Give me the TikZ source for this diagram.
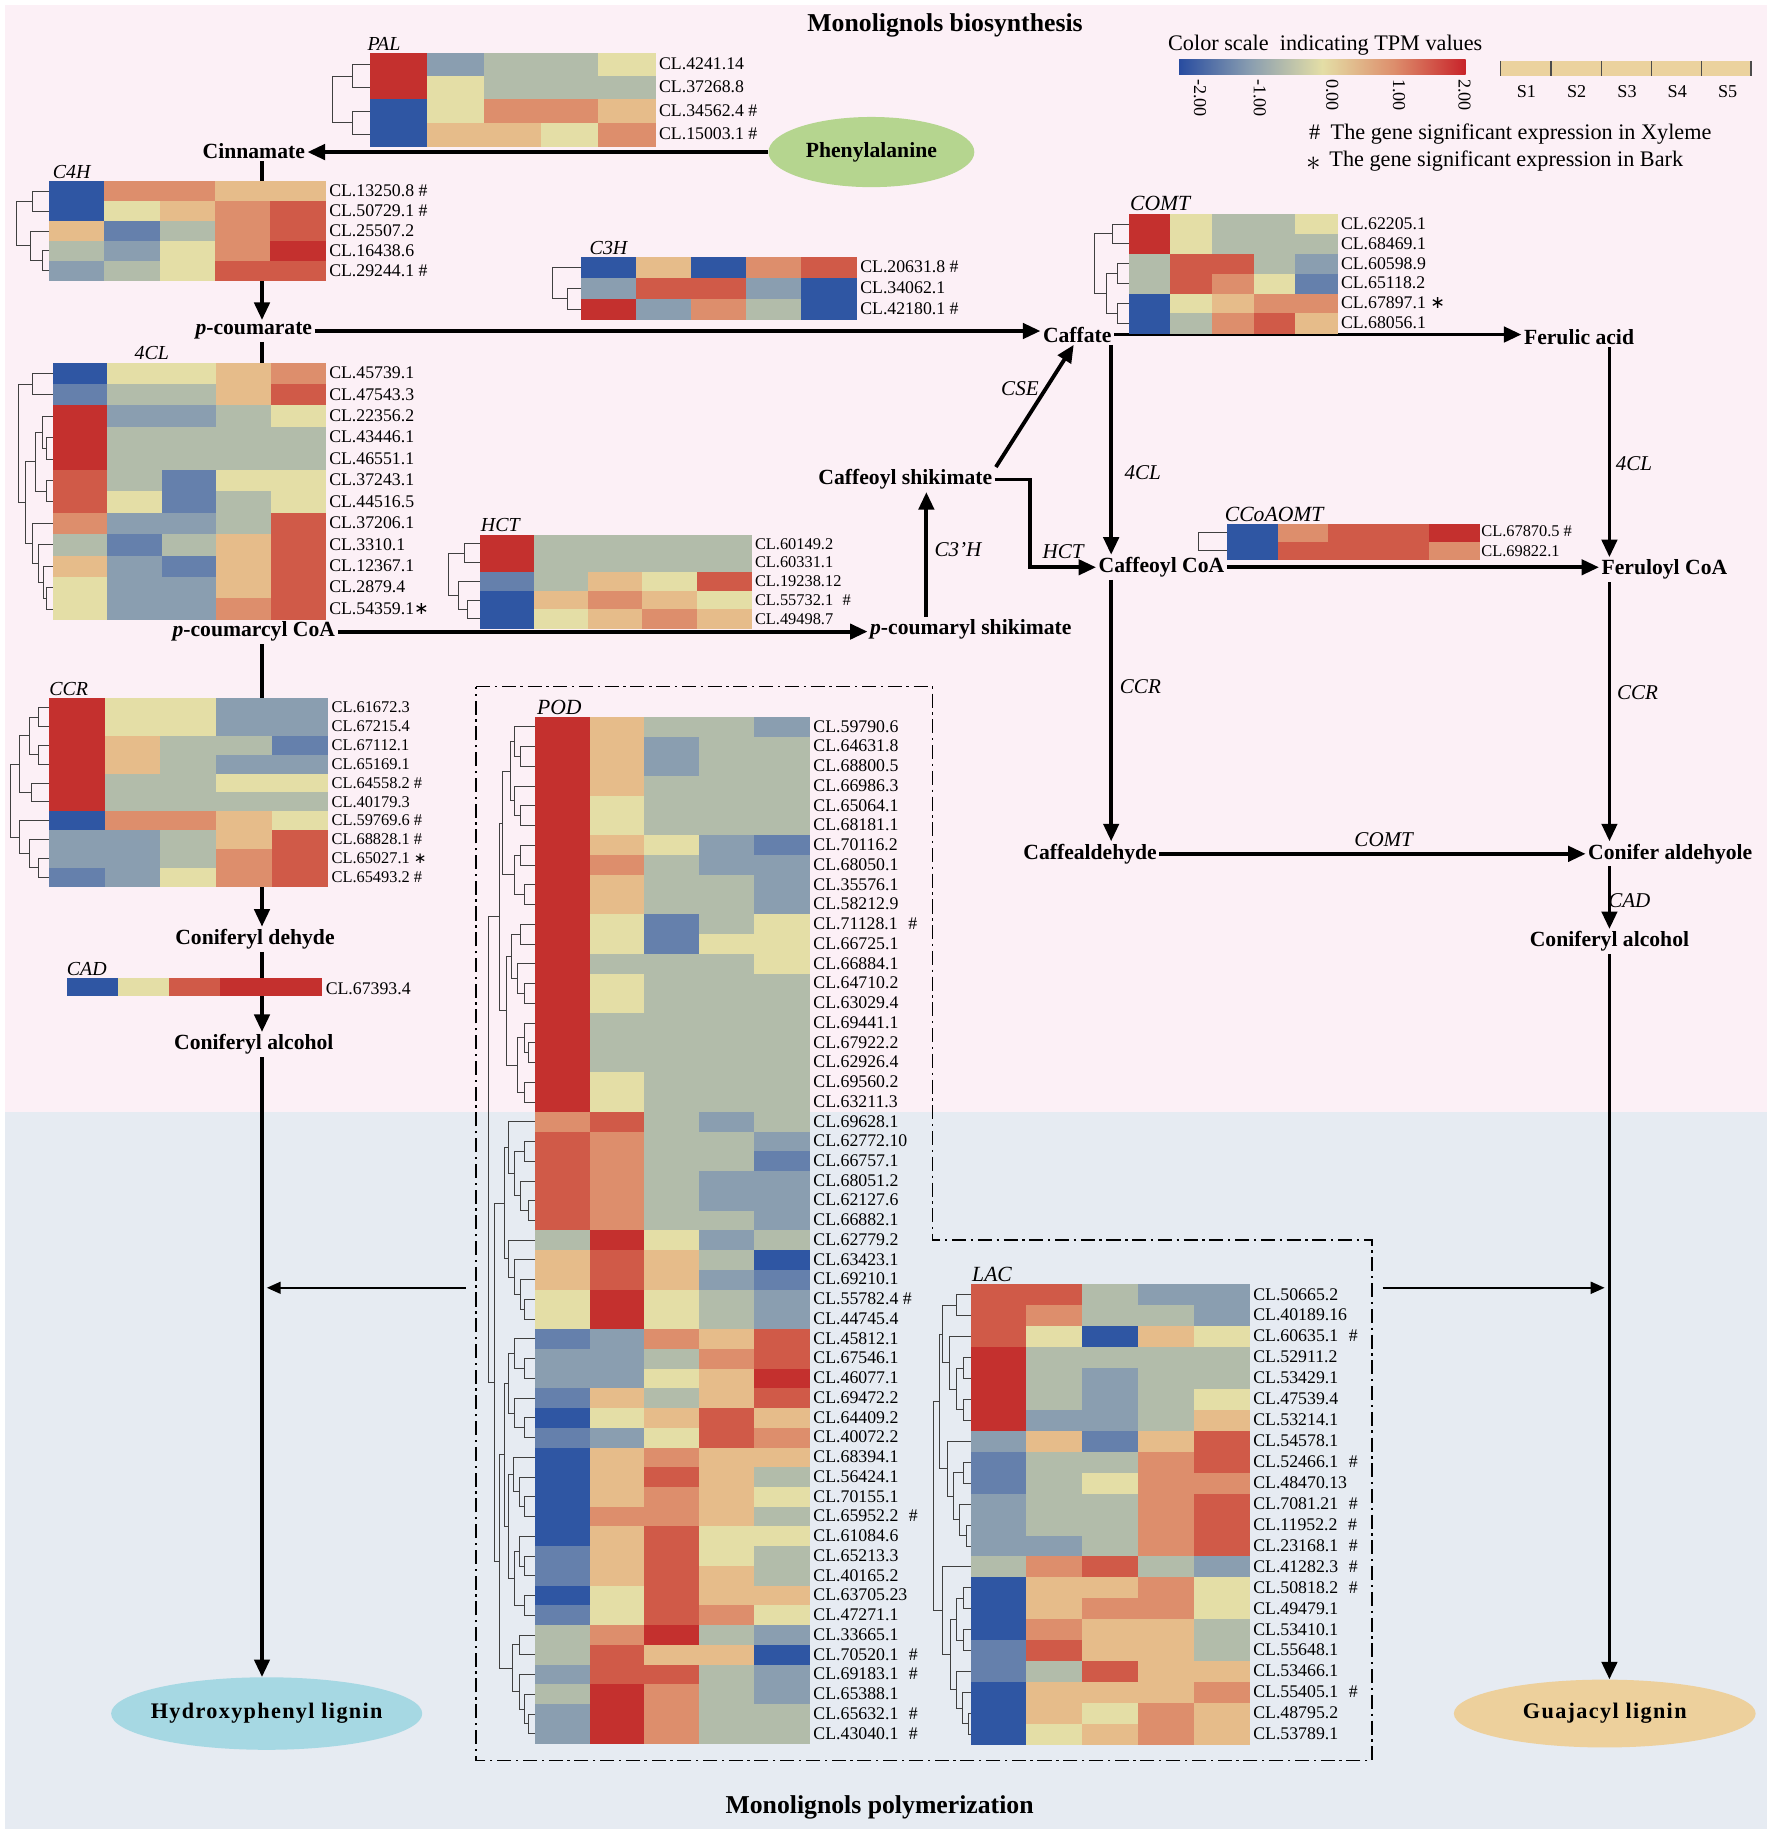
\documentclass[tikz,border=0pt]{standalone}
\usepackage{fontspec}
\setmainfont{Liberation Serif}
\newfontfamily\djv{DejaVu Sans}
\usetikzlibrary{arrows.meta,shapes.geometric,calc}
\definecolor{c0}{RGB}{47,86,163}
\definecolor{c1}{RGB}{101,128,172}
\definecolor{c2}{RGB}{138,158,176}
\definecolor{c3}{RGB}{178,188,170}
\definecolor{c4}{RGB}{228,222,166}
\definecolor{c5}{RGB}{230,188,138}
\definecolor{c6}{RGB}{221,142,108}
\definecolor{c7}{RGB}{208,90,72}
\definecolor{c8}{RGB}{196,48,46}
\definecolor{cbb}{RGB}{40,76,160}
\definecolor{cbr}{RGB}{200,35,42}
\definecolor{pinkbg}{RGB}{252,240,246}
\definecolor{bluebg}{RGB}{230,235,242}
\definecolor{phecol}{RGB}{181,213,143}
\definecolor{hydcol}{RGB}{166,216,227}
\definecolor{guacol}{RGB}{237,208,156}
\definecolor{sampcol}{RGB}{235,210,158}
\pgfdeclarehorizontalshading{tpm}{100bp}{color(0bp)=(cbb); color(25bp)=(cbb); color(37.5bp)=(c2); color(50bp)=(c4); color(62.5bp)=(c6); color(75bp)=(cbr); color(100bp)=(cbr)}
\newcommand\hmap[5]{\foreach \row [count=\i] in {#5} {\foreach \v [count=\j] in \row {\fill[fill=c\v] ({#1+(\j-1)*#3},{#2+(\i-1)*#4}) rectangle ++({#3+0.5},{#4+0.5});}}}
\newcommand\hlabels[5]{\foreach \t [count=\i] in {#5} {\node[lab] (#4-\i) at (#1,{#2+(\i-0.5)*#3}) {\t};}}
\newcommand\dbr[5]{\draw[dend] (#4,{\HY+(#2-0.5)*\HH}) -- (#1,{\HY+(#2-0.5)*\HH}) -- (#1,{\HY+(#3-0.5)*\HH}) -- (#5,{\HY+(#3-0.5)*\HH});}
\newcommand\stmark[1][15]{{\djv\fontsize{#1}{#1}\selectfont ∗}}
\newcommand\stbig{\raisebox{-0.15em}{\fontsize{26}{26}\selectfont$\ast$}}
\begin{document}
\begin{tikzpicture}[x=1pt,y=-1pt,
  lab/.style={anchor=west, inner sep=0.3pt, text height=10pt, text depth=1pt, font=\fontsize{15.2}{16}\selectfont},
  cmp/.style={inner sep=2pt, font=\bfseries\fontsize{18.5}{20}\selectfont},
  enz/.style={inner sep=1pt, font=\itshape\fontsize{18}{20}\selectfont},
  htitle/.style={anchor=south west, inner sep=1pt, font=\itshape\fontsize{17}{18}\selectfont},
  lign/.style={ellipse, inner xsep=-12pt, inner ysep=0pt, font=\bfseries\fontsize{19}{20}\selectfont\addfontfeature{LetterSpace=6}},
  arr/.style={line width=3.3pt, -{Triangle[length=15pt,width=13pt]}},
  arrthin/.style={line width=2.2pt, -{Triangle[length=12pt,width=10pt]}},
  dend/.style={line width=0.8pt, black!75},
  dashbox/.style={line width=1.2pt, dash pattern=on 12pt off 4pt on 2pt off 4pt},
  legfont/.style={inner sep=1pt, font=\fontsize{19}{20}\selectfont}]
\useasboundingbox (0,0) rectangle (1515,1568);
\fill[white] (0,0) rectangle (1515,1568);
\fill[pinkbg] (4,4) rectangle (1511,951);
\fill[bluebg] (4,951) rectangle (1511,1564);
\draw[dashbox] (407,587) -- (797,587) -- (797,1060) -- (1173,1060) -- (1173,1505) -- (407,1505) -- cycle;
% titles
\node[font=\bfseries\fontsize{22}{24}\selectfont] (title) at (808,22) {Monolignols biosynthesis};
\node[font=\bfseries\fontsize{22}{24}\selectfont] (title2) at (752,1545) {Monolignols polymerization};
% compounds
\node[lign, fill=phecol, minimum width=176pt, minimum height=60pt, inner xsep=0pt, font=\bfseries\fontsize{18.5}{20}\selectfont] (phe) at (745,130) {Phenylalanine};
\node[cmp] (cin) at (217,129) {Cinnamate};
\node[cmp] (pcou) at (217,283) {{\itshape p}-coumarate};
\node[cmp] (pcoa) at (217,540) {{\itshape p}-coumarcyl CoA};
\node[cmp] (conde) at (218,803) {Coniferyl dehyde};
\node[cmp] (conal1) at (217,893) {Coniferyl alcohol};
\node[lign, fill=hydcol, minimum width=266pt, minimum height=62pt] (hyd) at (228,1465) {Hydroxyphenyl lignin};
\node[cmp] (caf) at (921,286) {Caffate};
\node[cmp] (fer) at (1350,288) {Ferulic acid};
\node[cmp] (cafsh) at (774,410) {Caffeoyl shikimate};
\node[cmp] (pcsh) at (830,538) {{\itshape p}-coumaryl shikimate};
\node[cmp] (cafcoa) at (993,485) {Caffeoyl CoA};
\node[cmp] (fercoa) at (1423,487) {Feruloyl CoA};
\node[cmp] (cafald) at (932,730) {Caffealdehyde};
\node[cmp] (conald) at (1428,730) {Conifer aldehyole};
\node[cmp] (conal2) at (1376,805) {Coniferyl alcohol};
\node[lign, fill=guacol, minimum width=258pt, minimum height=58pt] (guaj) at (1372,1465) {Guajacyl lignin};
% enzyme labels
\node[enz] (e-c3h) at (819,470) {C3’H};
\node[enz] (e-cse) at (872,332) {CSE};
\node[enz] (e-hct) at (909,472) {HCT};
\node[enz] (e-4cl1) at (977,404) {4CL};
\node[enz] (e-4cl2) at (1397,396) {4CL};
\node[enz] (e-ccr1) at (975,587) {CCR};
\node[enz] (e-ccr2) at (1400,592) {CCR};
\node[enz] (e-comt) at (1183,718) {COMT};
\node[enz] (e-cad) at (1393,770) {CAD};
% column coordinates
\coordinate (lx) at (224,0);
\coordinate (mx) at (950,0);
\coordinate (rx) at (1376,0);
\coordinate (c3x) at (792,0);
\coordinate (podout) at (398,1101);
\coordinate (hydin) at (228,1101);
\coordinate (lacout) at (1182,1101);
\coordinate (guain) at (1372,1101);
% arrows
\draw[arr] (phe.west) -- (phe.west -| cin.east);
\draw[arr] (cin.south -| lx) -- (pcou.north -| lx);
\draw[arr] (pcou.east) -- (pcou.east -| caf.west);
\draw[arr] (pcou.south -| lx) -- (pcoa.north -| lx);
\draw[arr] (pcoa.east) -- (pcoa.east -| pcsh.west);
\draw[arr] (pcsh.north -| c3x) -- (cafsh.south -| c3x);
\draw[arr] ([xshift=1pt]cafsh.north east) -- ([xshift=-3pt]caf.south);
\draw[arr] (cafsh.east) -- ++(30,0) |- (cafcoa.west);
\draw[arr] (caf.east) -- (caf.east -| fer.west);
\draw[arr] (caf.south -| mx) -- (cafcoa.north -| mx);
\draw[arr] (fer.south -| rx) -- (fercoa.north -| rx);
\draw[arr] (cafcoa.east) -- (cafcoa.east -| fercoa.west);
\draw[arr] (cafcoa.south -| mx) -- (cafald.north -| mx);
\draw[arr] (fercoa.south -| rx) -- (conald.north -| rx);
\draw[arr] (cafald.east) -- (cafald.east -| conald.west);
\draw[arr] (conald.south -| rx) -- (conal2.north -| rx);
\draw[arr] (conal2.south -| rx) -- (guaj.north -| rx);
\draw[arr] (pcoa.south -| lx) -- (conde.north -| lx);
\draw[arr] (conde.south -| lx) -- (conal1.north -| lx);
\draw[arr] (conal1.south -| lx) -- (hyd.north -| lx);
\draw[arrthin] (podout) -- (hydin);
\draw[arrthin] (lacout) -- (guain);
% ---------- heatmaps ----------
% PAL
\hmap{316}{45}{48.8}{20}{{8,2,3,3,4},{8,4,3,3,3},{0,4,6,6,5},{0,5,5,4,6}}
\node[htitle] (t-pal) at (313,44) {PAL};
\hlabels{563}{45}{20}{pal}{CL.4241.14, CL.37268.8, CL.34562.4 \#, CL.15003.1 \#}
\def\HY{45}\def\HH{20}
\dbr{301}{1}{2}{316}{316}\dbr{301}{3}{4}{316}{316}\dbr{284}{1.5}{3.5}{301}{301}
% C4H
\hmap{42}{155}{47.2}{17}{{0,6,6,5,5},{0,4,5,6,7},{5,1,3,6,7},{3,2,4,6,8},{2,3,4,7,7}}
\node[htitle] (t-c4h) at (44,154) {C4H};
\hlabels{281}{155}{17}{c4h}{CL.13250.8 \#, CL.50729.1 \#, CL.25507.2, CL.16438.6, CL.29244.1 \#}
\def\HY{155}\def\HH{17}
\dbr{28}{1}{2}{42}{42}\dbr{36}{4}{5}{42}{42}\dbr{26}{3}{4.5}{42}{36}\dbr{14}{1.5}{3.75}{28}{26}
% C3H
\hmap{497}{220}{47}{17.7}{{0,5,0,6,7},{2,7,7,2,0},{8,2,6,3,0}}
\node[htitle] (t-c3h) at (503,219) {C3H};
\hlabels{735}{220}{17.7}{c3h}{CL.20631.8 \#, CL.34062.1, CL.42180.1 \#}
\def\HY{220}\def\HH{17.7}
\dbr{485}{2}{3}{497}{497}\dbr{472}{1}{2.5}{497}{485}
% COMT
\hmap{965}{183}{35.6}{17}{{8,4,3,3,4},{8,4,3,3,3},{3,7,7,3,2},{3,7,6,4,1},{0,4,5,6,6},{0,3,6,7,5}}
\node[htitle, font=\itshape\fontsize{18.5}{20}\selectfont] (t-comt) at (965,181) {COMT};
\hlabels{1146}{183}{17}{comt}{CL.62205.1, CL.68469.1, CL.60598.9, CL.65118.2, CL.67897.1 \stmark, CL.68056.1}
\def\HY{183}\def\HH{17}
\dbr{951}{1}{2}{965}{965}\dbr{955}{3}{4}{965}{965}\dbr{955}{5}{6}{965}{965}\dbr{946}{3.5}{5.5}{955}{955}\dbr{936}{1.5}{4.5}{951}{946}
% 4CL
\hmap{45}{310}{46.6}{18.33}{{0,4,4,5,6},{1,3,3,5,7},{8,2,2,3,4},{8,3,3,3,3},{8,3,3,3,3},{7,3,1,4,4},{7,4,1,3,4},{6,2,2,3,7},{3,1,3,5,7},{5,2,1,5,7},{4,2,2,5,7},{4,2,2,6,7}}
\node[htitle] (t-4cl) at (114,309) {4CL};
\hlabels{281}{310}{18.33}{fcl}{CL.45739.1, CL.47543.3, CL.22356.2, CL.43446.1, CL.46551.1, CL.37243.1, CL.44516.5, CL.37206.1, CL.3310.1, CL.12367.1, CL.2879.4, CL.54359.1\stmark}
\def\HY{310}\def\HH{18.33}
\dbr{28}{1}{2}{45}{45}\dbr{40}{4}{5}{45}{45}\dbr{36}{3}{4.5}{45}{40}\dbr{40}{6}{7}{45}{45}\dbr{30}{3.75}{6.5}{36}{40}\dbr{40}{11}{12}{45}{45}\dbr{37}{10}{11.5}{45}{40}\dbr{33}{9}{10.75}{45}{37}\dbr{28}{8}{9.875}{45}{33}\dbr{22}{5.125}{8.9375}{30}{28}\dbr{16}{1.5}{7.03}{28}{22}
% HCT
\hmap{410}{457}{46.4}{16}{{8,3,3,3,3},{8,3,3,3,3},{1,3,5,4,7},{0,5,6,5,4},{0,4,5,6,5}}
\node[htitle] (t-hct) at (410,456) {HCT};
\begin{scope}[lab/.append style={font=\fontsize{14}{15}\selectfont}]
\hlabels{645}{457}{16}{hct}{CL.60149.2, CL.60331.1, CL.19238.12, CL.55732.1\hspace{8pt}\#, CL.49498.7}
\end{scope}
\def\HY{457}\def\HH{16}
\dbr{397}{1}{2}{410}{410}\dbr{400}{4}{5}{410}{410}\dbr{392}{3}{4.5}{410}{400}\dbr{383}{1.5}{3.75}{397}{392}
% CCoAOMT
\hmap{1049}{448}{43.2}{15}{{0,6,7,7,8},{0,7,7,7,6}}
\node[htitle, font=\itshape\fontsize{18.5}{20}\selectfont] (t-ccoa) at (1046,447) {CCoAOMT};
\begin{scope}[lab/.append style={font=\fontsize{14}{15}\selectfont}]
\node[lab] (ccoa-1) at (1266,454) {CL.67870.5 \#};
\node[lab] (ccoa-2) at (1266,471) {CL.69822.1};
\end{scope}
\def\HY{448}\def\HH{15}
\dbr{1025}{1}{2}{1049}{1049}
% CCR
\hmap{42}{597}{47.6}{16.1}{{8,4,4,2,2},{8,4,4,2,2},{8,5,3,3,1},{8,5,3,2,2},{8,3,3,4,4},{8,3,3,3,3},{0,6,6,5,4},{2,2,3,5,7},{2,2,3,6,7},{1,2,4,6,7}}
\node[htitle] (t-ccr) at (41,596) {CCR};
\begin{scope}[lab/.append style={font=\fontsize{14}{15}\selectfont}]
\hlabels{283}{597}{16.1}{ccr}{CL.61672.3, CL.67215.4, CL.67112.1, CL.65169.1, CL.64558.2 \#, CL.40179.3, CL.59769.6 \#, CL.68828.1 \#, CL.65027.1 \stmark[13], CL.65493.2 \#}
\end{scope}
\def\HY{597}\def\HH{16.1}
\dbr{33}{1}{2}{42}{42}\dbr{33}{3}{4}{42}{42}\dbr{25}{1.5}{3.5}{33}{33}\dbr{27}{5}{6}{42}{42}\dbr{17}{2.5}{5.5}{25}{27}\dbr{33}{9}{10}{42}{42}\dbr{25}{8}{9.5}{42}{33}\dbr{17}{7}{8.75}{42}{25}\dbr{9}{4}{7.875}{17}{17}
% CAD
\hmap{57}{836}{43.6}{15}{{0,4,7,8,8}}
\node[htitle] (t-cad) at (56,835) {CAD};
\node[lab] (cad-1) at (278,846) {CL.67393.4};
% POD
\hmap{457}{613}{47}{16.88}{{8,5,3,3,2},{8,5,2,3,3},{8,5,2,3,3},{8,5,3,3,3},{8,4,3,3,3},{8,4,3,3,3},{8,5,4,2,1},{8,6,3,2,2},{8,5,3,3,2},{8,5,3,3,2},{8,4,1,3,4},{8,4,1,4,4},{8,3,3,3,4},{8,4,3,3,3},{8,4,3,3,3},{8,3,3,3,3},{8,3,3,3,3},{8,3,3,3,3},{8,4,3,3,3},{8,4,3,3,3},{6,7,3,2,3},{7,6,3,3,2},{7,6,3,3,1},{7,6,3,2,2},{7,6,3,2,2},{7,6,3,3,2},{3,8,4,2,3},{5,7,5,3,0},{5,7,5,2,1},{4,8,4,3,2},{4,8,4,3,2},{1,2,6,5,7},{2,2,3,6,7},{2,2,4,5,8},{1,5,3,5,7},{0,4,5,7,5},{1,2,4,7,6},{0,5,6,5,5},{0,5,7,5,3},{0,5,6,5,4},{0,6,6,5,3},{0,5,7,4,4},{1,5,7,4,3},{1,5,7,5,3},{0,4,7,5,5},{1,4,7,6,4},{3,6,8,3,2},{3,7,5,5,0},{2,7,7,3,2},{3,8,6,3,2},{2,8,6,3,3},{2,8,6,3,3}}
\node[htitle, font=\itshape\fontsize{18.5}{20}\selectfont] (t-pod) at (458,612) {POD};
\hlabels{695}{613}{16.88}{pod}{CL.59790.6, CL.64631.8, CL.68800.5, CL.66986.3, CL.65064.1, CL.68181.1, CL.70116.2, CL.68050.1, CL.35576.1, CL.58212.9, CL.71128.1\hspace{9pt}\#, CL.66725.1, CL.66884.1, CL.64710.2, CL.63029.4, CL.69441.1, CL.67922.2, CL.62926.4, CL.69560.2, CL.63211.3, CL.69628.1, CL.62772.10, CL.66757.1, CL.68051.2, CL.62127.6, CL.66882.1, CL.62779.2, CL.63423.1, CL.69210.1, CL.55782.4 \#, CL.44745.4, CL.45812.1, CL.67546.1, CL.46077.1, CL.69472.2, CL.64409.2, CL.40072.2, CL.68394.1, CL.56424.1, CL.70155.1, CL.65952.2\hspace{9pt}\#, CL.61084.6, CL.65213.3, CL.40165.2, CL.63705.23, CL.47271.1, CL.33665.1, CL.70520.1\hspace{9pt}\#, CL.69183.1\hspace{9pt}\#, CL.65388.1, CL.65632.1\hspace{9pt}\#, CL.43040.1\hspace{9pt}\#}
\def\HY{613}\def\HH{16.88}
\dbr{445}{2}{3}{457}{457}\dbr{440}{1}{2.5}{457}{445}
\dbr{445}{5}{6}{457}{457}\dbr{440}{4}{5.5}{457}{445}
\dbr{436}{1.75}{4.75}{440}{440}
\dbr{445}{7}{8}{457}{457}\dbr{448}{9}{10}{457}{457}\dbr{440}{7.5}{9.5}{445}{448}
\dbr{430}{3.25}{8.5}{436}{440}
\dbr{445}{11}{12}{457}{457}\dbr{448}{14}{15}{457}{457}\dbr{442}{13}{14.5}{457}{448}\dbr{437}{11.5}{13.75}{445}{442}
\dbr{452}{17}{18}{457}{457}\dbr{448}{16}{17.5}{457}{452}\dbr{448}{19}{20}{457}{457}\dbr{442}{16.75}{19.5}{448}{448}
\dbr{433}{12.625}{18.125}{437}{442}
\dbr{427}{5.875}{15.375}{430}{433}
\dbr{448}{22}{23}{457}{457}\dbr{452}{25}{26}{457}{457}\dbr{445}{24}{25.5}{457}{452}\dbr{440}{22.5}{24.75}{448}{445}\dbr{435}{21}{23.625}{457}{440}
\dbr{448}{30}{31}{457}{457}\dbr{445}{29}{30.5}{457}{448}\dbr{440}{28}{29.75}{457}{445}\dbr{435}{27}{28.875}{457}{440}
\dbr{431}{22.31}{27.94}{435}{435}
\dbr{448}{33}{34}{457}{457}\dbr{440}{32}{33.5}{457}{448}\dbr{448}{36}{37}{457}{457}\dbr{440}{35}{36.5}{457}{448}\dbr{435}{32.75}{35.75}{440}{440}
\dbr{448}{40}{41}{457}{457}\dbr{444}{39}{40.5}{457}{448}\dbr{439}{38}{39.75}{457}{444}
\dbr{448}{43}{44}{457}{457}\dbr{444}{42}{43.5}{457}{448}\dbr{448}{45}{46}{457}{457}\dbr{440}{42.75}{45.5}{444}{448}
\dbr{435}{38.875}{44.125}{439}{440}
\dbr{431}{34.25}{41.5}{435}{435}
\dbr{444}{47}{48}{457}{457}\dbr{452}{51}{52}{457}{457}\dbr{448}{50}{51.5}{457}{452}\dbr{444}{49}{50.75}{457}{448}\dbr{438}{47.5}{49.875}{444}{444}
\dbr{427}{37.875}{48.69}{431}{438}
\dbr{423}{25.125}{43.28}{431}{427}
\dbr{418}{10.625}{34.2}{427}{423}
% LAC
\hmap{830}{1098}{47.6}{17.9}{{7,7,3,2,2},{7,6,3,3,2},{7,4,0,5,4},{8,3,3,3,3},{8,3,2,3,3},{8,3,2,3,4},{8,2,2,3,5},{2,5,1,5,7},{1,3,3,6,7},{1,3,4,6,6},{2,3,3,6,7},{2,3,3,6,7},{2,2,3,6,7},{3,6,7,3,2},{0,5,5,6,4},{0,5,6,6,4},{0,6,5,5,3},{1,7,5,5,3},{1,3,7,5,5},{0,5,5,5,6},{0,5,4,6,5},{0,4,5,6,5}}
\node[htitle, font=\itshape\fontsize{18.5}{20}\selectfont] (t-lac) at (830,1097) {LAC};
\hlabels{1071}{1098}{17.9}{lac}{CL.50665.2, CL.40189.16, CL.60635.1\hspace{9pt}\#, CL.52911.2, CL.53429.1, CL.47539.4, CL.53214.1, CL.54578.1, CL.52466.1\hspace{9pt}\#, CL.48470.13, CL.7081.21\hspace{9pt}\#, CL.11952.2\hspace{9pt}\#, CL.23168.1\hspace{9pt}\#, CL.41282.3\hspace{9pt}\#, CL.50818.2\hspace{9pt}\#, CL.49479.1, CL.53410.1, CL.55648.1, CL.53466.1, CL.55405.1\hspace{9pt}\#, CL.48795.2, CL.53789.1}
\def\HY{1098}\def\HH{17.9}
\dbr{818}{1}{2}{830}{830}\dbr{824}{4}{5}{830}{830}\dbr{824}{6}{7}{830}{830}\dbr{818}{4.5}{6.5}{824}{824}\dbr{812}{3}{5.5}{830}{818}\dbr{806}{1.5}{4.25}{818}{812}
\dbr{824}{9}{10}{830}{830}\dbr{826}{12}{13}{830}{830}\dbr{820}{11}{12.5}{830}{826}\dbr{815}{9.5}{11.75}{824}{820}\dbr{810}{8}{10.625}{830}{815}
\dbr{803}{2.875}{9.31}{806}{810}
\dbr{824}{15}{16}{830}{830}\dbr{824}{17}{18}{830}{830}\dbr{818}{15.5}{17.5}{824}{824}\dbr{828}{21}{22}{830}{830}\dbr{823}{20}{21.5}{830}{828}\dbr{818}{19}{20.75}{830}{823}\dbr{813}{16.5}{19.875}{818}{818}\dbr{806}{14}{18.19}{830}{813}
\dbr{798}{6.09}{16.09}{803}{806}
% ---------- legend ----------
\node[legfont] (cstitle) at (1133,39) {Color scale\ \ indicating TPM values};
\shade[shading=tpm] (1008,51) rectangle (1253,64);
\foreach \x/\t [count=\k] in {1026/-2.00,1077/-1.00,1139/0.00,1196/1.00,1252/2.00}
  \node[rotate=-90, anchor=west, inner sep=0.5pt, font=\fontsize{15.5}{16}\selectfont] (tk\k) at (\x,67) {\t};
\fill[sampcol] (1283,52) rectangle (1497,65);
\foreach \x in {1283,1326,1369,1412,1455,1497} \draw[line width=1pt, black!70] (\x,52) -- (\x,65);
\foreach \x/\t [count=\k] in {1305/S1,1348/S2,1391/S3,1434/S4,1477/S5}
  \node[inner sep=0.5pt, font=\fontsize{15.5}{16}\selectfont] (smp\k) at (\x,78) {\t};
\node[legfont, anchor=west] (legx) at (1118,115) {\#\hspace{9pt}The gene significant expression in Xyleme};
\node[legfont, anchor=west] (legb) at (1116,138) {\stbig\hspace{7pt}The gene significant expression in Bark};
\end{tikzpicture}
\end{document}
